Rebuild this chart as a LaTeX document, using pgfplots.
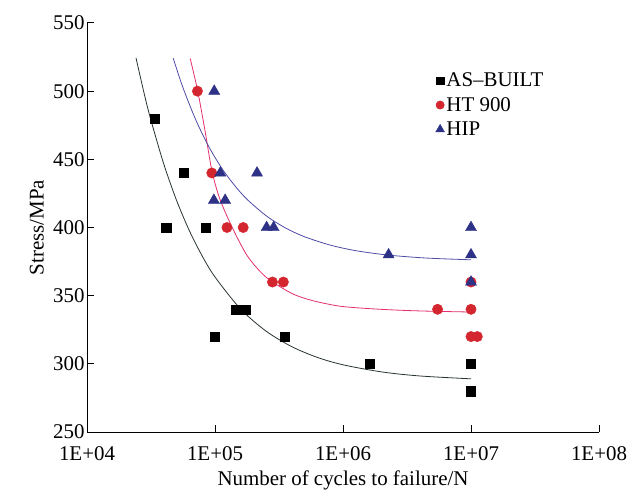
\documentclass[border=0pt]{standalone}
\usepackage{fontspec}
\setmainfont{Liberation Serif}
\usepackage{pgfplots}
\pgfplotsset{compat=1.18}
\definecolor{mred}{RGB}{212,38,46}
\definecolor{mblue}{RGB}{45,50,135}
\definecolor{cred}{RGB}{228,45,110}
\definecolor{cblue}{RGB}{80,75,165}
\definecolor{cblack}{RGB}{40,50,50}
\pgfplotsset{mylegend/.style={legend image code/.code={\draw[##1] plot coordinates {(0bp,0bp)};}}}
\begin{document}
\begin{tikzpicture}
\path[use as bounding box] (-87bp,-60bp) rectangle (540bp,432bp);
\begin{axis}[
  scale only axis, width=512bp, height=409bp,
  xmode=log, xmin=1e4, xmax=1e8, ymin=250, ymax=550,
  axis lines=left, axis line style={-, line width=1bp},
  xtick={1e4,1e5,1e6,1e7,1e8},
  xticklabels={1E+04,1E+05,1E+06,1E+07,1E+08},
  xminorticks=false,
  ytick={250,300,350,400,450,500,550},
  tick align=inside, major tick length=7bp,
  tick style={black, line width=1bp},
  font=\fontsize{21}{25}\selectfont,
  ticklabel style={font=\fontsize{21}{25}\selectfont},
  /pgf/number format/assume math mode=true,
  xticklabel style={yshift=-11bp},
  yticklabel style={xshift=1bp},
  xlabel={Number of cycles to failure/N},
  ylabel={Stress/MPa},
  xlabel style={at={(axis description cs:0.5,-0.118)}, anchor=center},
  ylabel style={at={(axis description cs:-0.098,0.5)}, anchor=center},
  legend style={draw=none, fill=none, at={(axis description cs:0.675,0.888)}, anchor=north west,
    font=\fontsize{21}{25}\selectfont, row sep=5bp},
  legend cell align=left,
  clip=false,
]
% fitted curves
\addplot[cblack, line width=0.8bp, smooth, no markers, forget plot] coordinates {
(24155,524.3) (28184,496.9) (31623,478.6) (39811,446.5) (50119,419.8) (63096,397.6)
(79433,379.1) (100000,363.7) (158489,340.2) (251189,323.9) (398107,312.6) (630957,304.7)
(1000000,299.3) (1995262,294.1) (3981072,291.1) (10000000,289.0)};
\addplot[cred, line width=0.8bp, smooth, no markers, forget plot] coordinates {
(63973,524) (72946,501) (83176,472) (94406,442) (107152,423) (125893,407) (151356,391.4)
(177828,379.5) (213796,370) (254683,363) (316228,357) (411150,351) (524807,347.5)
(665273,345) (1000000,342) (1963360,340) (3981072,338.8) (10000000,338)};
\addplot[cblue, line width=0.8bp, smooth, no markers, forget plot] coordinates {
(47098,524.3) (56234,502.5) (70795,478.9) (89125,459.6) (112202,443.9) (141254,431.2)
(177828,420.7) (251189,408.6) (354813,399.7) (501187,393.2) (794328,387.1) (1258925,383.0)
(2238721,379.8) (4466836,377.6) (10000000,376.3)};
% data
\addplot[only marks, mark=square*, mark size=4.6bp, black, mylegend, legend image post style={mark size=3.6bp}] coordinates {
(34000,480) (41500,400) (57000,440) (84000,400) (100000,320) (146000,340) (172000,340)
(348000,320) (1610000,300) (10000000,300) (10000000,280)};
\addlegendentry{AS--BUILT}
\addplot[only marks, mark=*, mark size=5.2bp, mred, mylegend, legend image post style={mark size=4.2bp}] coordinates {
(72900,500) (94400,440) (124000,400) (166000,400) (281000,360) (342000,360)
(5480000,340) (10000000,340) (10000000,360) (10000000,320) (11200000,320)};
\addlegendentry{HT 900}
\addplot[only marks, mark=triangle*, mark size=6.4bp, mblue, mylegend, legend image post style={mark size=5bp}] coordinates {
(98600,500) (110000,440) (213000,440) (98000,420) (120000,420) (253000,400) (287000,400)
(2270000,380) (10000000,400) (10000000,380) (10000000,360)};
\addlegendentry{HIP}
\end{axis}
\end{tikzpicture}
\end{document}
